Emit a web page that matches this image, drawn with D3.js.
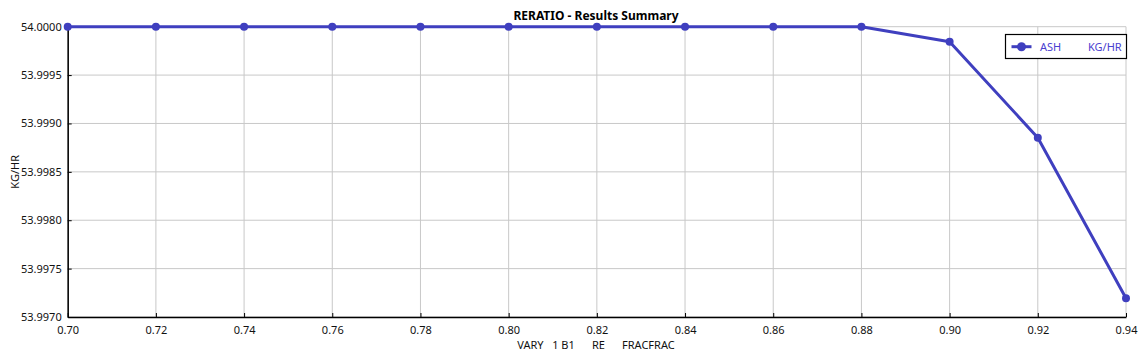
<!DOCTYPE html>
<html>
<head>
<meta charset="utf-8">
<script src="https://cdn.jsdelivr.net/npm/d3@7"></script>
<style>
  body { margin: 0; background: #fff; }
  text { font-family: "Noto Sans", "Open Sans", sans-serif; }
</style>
</head>
<body>
<svg id="chart"></svg>
<script>
const width = 1141, height = 353;
const margin = { top: 26.7, right: 15, bottom: 36, left: 67.7 };

// data
const xValues = [0.70, 0.72, 0.74, 0.76, 0.78, 0.80, 0.82, 0.84, 0.86, 0.88, 0.90, 0.92, 0.94];
const ashValues = [54.0000, 54.0000, 54.0000, 54.0000, 54.0000, 54.0000, 54.0000, 54.0000, 54.0000, 54.0000, 53.999845, 53.998853, 53.997194];
const xTicks = [0.70, 0.72, 0.74, 0.76, 0.78, 0.80, 0.82, 0.84, 0.86, 0.88, 0.90, 0.92, 0.94];
const yTicks = [53.9970, 53.9975, 53.9980, 53.9985, 53.9990, 53.9995, 54.0000];

const lineColor = "#3f3fbf";

const svg = d3.select("#chart")
    .attr("width", width)
    .attr("height", height);

const x = d3.scaleLinear()
    .domain([0.70, 0.94])
    .range([margin.left, 1126]);

const y = d3.scaleLinear()
    .domain([53.9970, 54.0000])
    .range([317, margin.top]);

// grid
svg.append("g")
    .selectAll("line")
    .data(xTicks)
    .join("line")
    .attr("x1", d => x(d)).attr("x2", d => x(d))
    .attr("y1", y.range()[1]).attr("y2", y.range()[0])
    .attr("stroke", "#c8c8c8");

svg.append("g")
    .selectAll("line")
    .data(yTicks)
    .join("line")
    .attr("x1", x.range()[0]).attr("x2", x.range()[1])
    .attr("y1", d => y(d)).attr("y2", d => y(d))
    .attr("stroke", "#c8c8c8");

// axes
const xAxis = svg.append("g")
    .attr("transform", `translate(0,${y.range()[0]})`)
    .call(d3.axisBottom(x).tickValues(xTicks).tickFormat(d3.format(".2f")).tickSizeInner(-4).tickSizeOuter(0).tickPadding(9));

const yAxis = svg.append("g")
    .attr("transform", `translate(${x.range()[0]},0)`)
    .call(d3.axisLeft(y).tickValues(yTicks).tickFormat(d3.format(".4f")).tickSizeInner(-4).tickSizeOuter(0).tickPadding(6));

[xAxis, yAxis].forEach(a => {
    a.select(".domain").attr("stroke", "#000").attr("stroke-width", 1.5);
    a.selectAll(".tick line").attr("stroke", "#000");
    a.selectAll(".tick text")
        .attr("fill", "#111")
        .style("font-size", "11px")
        .style("font-family", "'Noto Sans', sans-serif");
});

// line + markers
const line = d3.line()
    .x((d, i) => x(xValues[i]))
    .y(d => y(d));

svg.append("path")
    .datum(ashValues)
    .attr("d", line)
    .attr("fill", "none")
    .attr("stroke", lineColor)
    .attr("stroke-width", 3)
    .attr("stroke-linejoin", "round");

svg.append("g")
    .selectAll("circle")
    .data(ashValues)
    .join("circle")
    .attr("cx", (d, i) => x(xValues[i]))
    .attr("cy", d => y(d))
    .attr("r", 4)
    .attr("fill", lineColor);

// title
svg.append("text")
    .attr("x", 596)
    .attr("y", 20)
    .attr("text-anchor", "middle")
    .style("font-size", "12px")
    .style("font-weight", "bold")
    .attr("fill", "#000")
    .text("RERATIO - Results Summary");

// axis titles
svg.append("text")
    .attr("x", 596)
    .attr("y", 349)
    .attr("text-anchor", "middle")
    .attr("xml:space", "preserve")
    .style("white-space", "pre")
    .style("font-size", "11px")
    .attr("fill", "#111")
    .text("VARY   1 B1      RE      FRACFRAC");

svg.append("text")
    .attr("transform", `translate(19,${(y.range()[0] + y.range()[1]) / 2}) rotate(-90)`)
    .attr("text-anchor", "middle")
    .style("font-size", "11px")
    .attr("fill", "#111")
    .text("KG/HR");

// legend
const legend = svg.append("g");
legend.append("rect")
    .attr("x", 1005.5).attr("y", 34.5)
    .attr("width", 121).attr("height", 24)
    .attr("fill", "#fff")
    .attr("stroke", "#000")
    .attr("stroke-width", 1.2);
legend.append("line")
    .attr("x1", 1011.5).attr("x2", 1031.5)
    .attr("y1", 46.7).attr("y2", 46.7)
    .attr("stroke", lineColor).attr("stroke-width", 3);
legend.append("circle")
    .attr("cx", 1021.5).attr("cy", 46.7).attr("r", 4.5)
    .attr("fill", lineColor);
legend.append("text")
    .attr("x", 1040).attr("y", 50.5)
    .style("font-size", "11px")
    .attr("fill", "#4a40d0")
    .text("ASH");
legend.append("text")
    .attr("x", 1088).attr("y", 50.5)
    .style("font-size", "11px")
    .attr("fill", "#4a40d0")
    .text("KG/HR");
</script>
</body>
</html>
